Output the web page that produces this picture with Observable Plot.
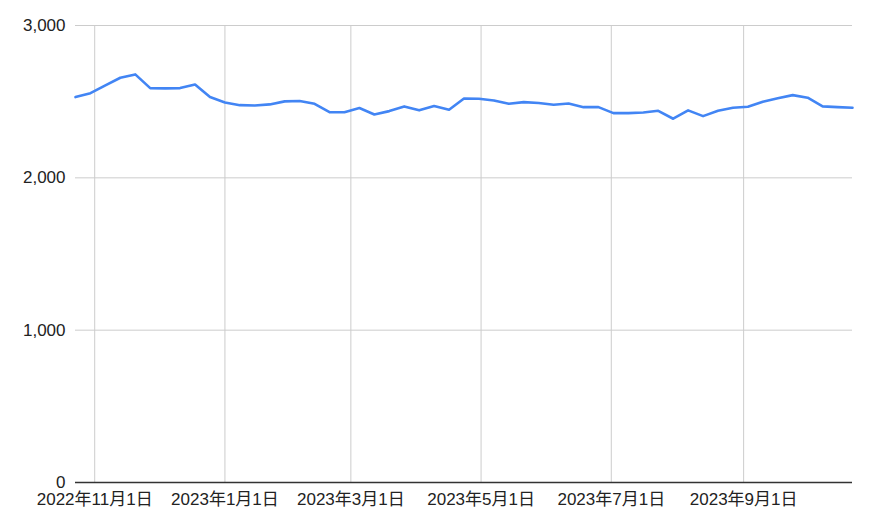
<!DOCTYPE html>
<html>
<head>
<meta charset="utf-8">
<script src="https://cdn.jsdelivr.net/npm/d3@7"></script>
<script src="https://cdn.jsdelivr.net/npm/@observablehq/plot@0.6"></script>
<style>
  html, body { margin: 0; padding: 0; background: #fff; }
  #chart svg { display: block; }
</style>
</head>
<body>
<div id="chart"></div>
<script>
const dates = [
  "2022-10-23","2022-10-30","2022-11-06","2022-11-13","2022-11-20","2022-11-27",
  "2022-12-04","2022-12-11","2022-12-18","2022-12-25","2023-01-01","2023-01-08",
  "2023-01-15","2023-01-22","2023-01-29","2023-02-05","2023-02-12","2023-02-19",
  "2023-02-26","2023-03-05","2023-03-12","2023-03-19","2023-03-26","2023-04-02",
  "2023-04-09","2023-04-16","2023-04-23","2023-04-30","2023-05-07","2023-05-14",
  "2023-05-21","2023-05-28","2023-06-04","2023-06-11","2023-06-18","2023-06-25",
  "2023-07-02","2023-07-09","2023-07-16","2023-07-23","2023-07-30","2023-08-06",
  "2023-08-13","2023-08-20","2023-08-27","2023-09-03","2023-09-10","2023-09-17",
  "2023-09-24","2023-10-01","2023-10-08","2023-10-15","2023-10-22"
];
const values = [
  2530, 2556, 2607, 2657, 2679, 2589, 2587, 2589, 2613, 2530, 2495, 2477, 2475, 2482, 2502, 2504, 2486, 2431,
  2431, 2458, 2416, 2438, 2469, 2443, 2471, 2447, 2521, 2519, 2508, 2486, 2497, 2491, 2480, 2488, 2464, 2464,
  2425, 2425, 2429, 2440, 2388, 2443, 2405, 2440, 2460, 2467, 2500, 2523, 2543, 2526, 2469, 2464, 2460
];
const xTickDates = ["2022-11-01","2023-01-01","2023-03-01","2023-05-01","2023-07-01","2023-09-01"];
const xTickLabels = ["2022年11月1日","2023年1月1日","2023年3月1日","2023年5月1日","2023年7月1日","2023年9月1日"];
const yTicks = [0, 1000, 2000, 3000];

const data = dates.map((d, i) => ({date: new Date(d + "T00:00:00Z"), value: values[i]}));
const xTicks = xTickDates.map(d => new Date(d + "T00:00:00Z"));
const labelOf = new Map(xTicks.map((d, i) => [+d, xTickLabels[i]]));

const chart = Plot.plot({
  width: 870,
  height: 525,
  marginLeft: 75,
  marginRight: 18,
  marginTop: 25,
  marginBottom: 43,
  style: {fontFamily: "'Liberation Sans', Arial, 'Noto Sans CJK JP', sans-serif", fontSize: "17px", color: "#222", background: "#fff"},
  x: {type: "utc", domain: [data[0].date, data[data.length - 1].date], label: null},
  y: {domain: [0, 3000], label: null},
  marks: [
    Plot.ruleY(yTicks.filter(v => v > 0), {stroke: "#cccccc", strokeWidth: 1}),
    Plot.ruleX(xTicks, {stroke: "#cccccc", strokeWidth: 1, y1: 0, y2: 3000}),
    Plot.axisX({ticks: xTicks, tickFormat: d => labelOf.get(+d), tickSize: 0, tickPadding: 10, label: null, fill: "#222"}),
    Plot.axisY({ticks: yTicks, tickFormat: d => d3.format(",")(d), tickSize: 0, tickPadding: 10, label: null, fill: "#222"}),
    Plot.line(data, {x: "date", y: "value", stroke: "#4285F4", strokeWidth: 2.6, strokeLinejoin: "round", strokeLinecap: "round"}),
    Plot.ruleY([0], {stroke: "#333333", strokeWidth: 1.5})
  ]
});
document.getElementById("chart").append(chart);
</script>
</body>
</html>
